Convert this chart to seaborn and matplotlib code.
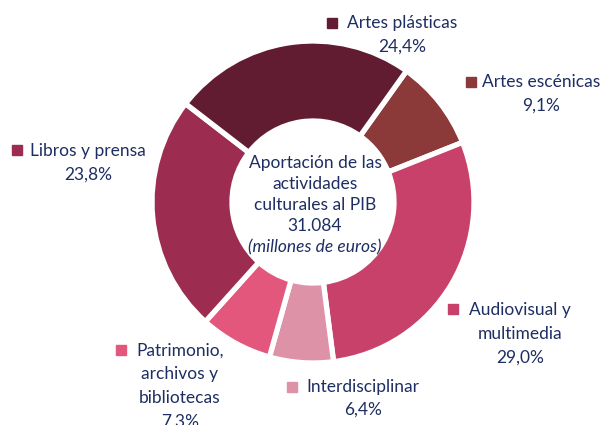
import matplotlib
matplotlib.use("Agg")
import matplotlib.pyplot as plt
import seaborn as sns

# Data (clockwise order starting at Artes escénicas)
categories = ["Artes escénicas", "Audiovisual y multimedia", "Interdisciplinar",
              "Patrimonio, archivos y bibliotecas", "Libros y prensa", "Artes plásticas"]
values = [9.1, 29.0, 6.4, 7.3, 23.8, 24.4]
colors = ["#8C3939", "#C8416B", "#DE92A8", "#E2577B", "#9C2D51", "#621C32"]
label_lines = [["Artes escénicas", "9,1%"],
               ["Audiovisual y", "multimedia", "29,0%"],
               ["Interdisciplinar", "6,4%"],
               ["Patrimonio,", "archivos y", "bibliotecas", "7,3%"],
               ["Libros y prensa", "23,8%"],
               ["Artes plásticas", "24,4%"]]
center_lines = ["Aportación de las", "actividades", "culturales al PIB", "31.084",
                "(millones de euros)"]

sns.set_theme(style="white")
plt.rcParams['font.family'] = ['Lato', 'DejaVu Sans']
TXT = "#1E2E63"

W, H = 607, 425
fig = plt.figure(figsize=(W / 100, H / 100), dpi=100)
ax = fig.add_axes([0, 0, 1, 1])
ax.set_xlim(0, W)
ax.set_ylim(0, H)
ax.set_aspect("equal")
ax.axis("off")

cx, cy, R = 313, H - 202, 161
ax.pie(values, colors=colors, startangle=54.5, counterclock=False,
       center=(cx, cy), radius=R, frame=True,
       wedgeprops=dict(width=80, edgecolor="white", linewidth=3.8))
ax.set_xlim(0, W)
ax.set_ylim(0, H)
ax.axis("off")

# label anchor: (square x, square y, text center x, first line y, line step)
anchors = [(471, 82, 541, 82, 24),
           (453, 309, 520, 310, 24),
           (292, 387, 363, 387, 23),
           (121, 350, 180, 351, 23.5),
           (17, 150, 88, 151, 24),
           (332, 23, 402, 23, 24)]
fs = 12.5
for (sx, sy, tx, ty, step), lines, col in zip(anchors, label_lines, colors):
    ax.plot([sx], [H - sy], marker="s", markersize=7.5, color=col, linestyle="none")
    for i, ln in enumerate(lines):
        ax.text(tx, H - (ty + i * step), ln, ha="center", va="center",
                fontsize=fs, color=TXT)

for i, ln in enumerate(center_lines):
    ax.text(315, H - (163 + i * 21), ln, ha="center", va="center", fontsize=fs,
            color=TXT, style="italic" if i == 4 else "normal")

fig.savefig("out.png", dpi=100)
